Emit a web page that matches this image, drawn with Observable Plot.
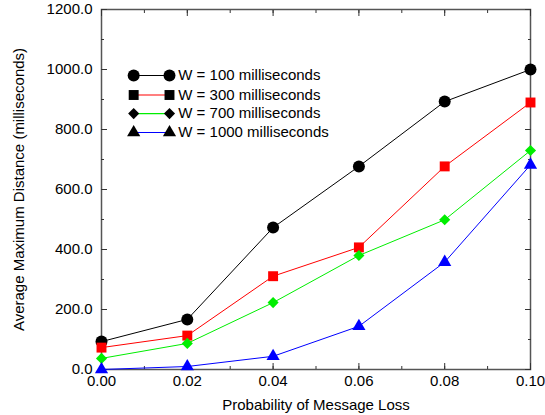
<!DOCTYPE html>
<html><head><meta charset="utf-8">
<script src="https://cdn.jsdelivr.net/npm/d3@7"></script>
<script src="https://cdn.jsdelivr.net/npm/@observablehq/plot@0.6"></script>
<style>
html,body{margin:0;padding:0;background:#fff;}
#chart{width:545px;height:415px;}
svg{font-family:"Liberation Sans",Arial,sans-serif;}
</style></head>
<body><div id="chart"></div>
<script>
const lossProb = [0.00, 0.02, 0.04, 0.06, 0.08, 0.10];
const seriesNames = ["W = 100 milliseconds", "W = 300 milliseconds", "W = 700 milliseconds", "W = 1000 milliseconds"];
const w100 = [93, 167, 473, 677, 893, 1000];
const w300 = [73, 113, 311, 407, 677, 890];
const w700 = [37, 87, 223, 380, 499, 730];
const w1000 = [0, 10, 44, 144, 358, 682];
const seriesColors = ["#000000", "#ff0000", "#00ee00", "#0000ff"];
const seriesSymbols = ["circle", "square", "diamond2", "triangle"];
const symbolRadius = [6, 5.6, 5, 4.9];
const xTicks = [0.00, 0.02, 0.04, 0.06, 0.08, 0.10];
const yTicks = [0, 200, 400, 600, 800, 1000, 1200];

const allVals = [w100, w300, w700, w1000];
const data = [];
allVals.forEach((vals, si) => vals.forEach((v, i) => data.push({x: lossProb[i], y: v, s: seriesNames[si], r: symbolRadius[si]})));

const legendY = [980, 915, 853, 790];
const legend = seriesNames.map((s, i) => ({s, y: legendY[i], r: symbolRadius[i]}));

const colorScale = {domain: seriesNames, range: seriesColors};
const symScale = {domain: seriesNames, range: seriesSymbols};
const xMinor = d3.range(0, 0.1001, 0.01);
const yMinor = d3.range(0, 1201, 100);

const chart = Plot.plot({
  width: 545, height: 415,
  marginLeft: 101, marginRight: 15, marginTop: 9, marginBottom: 46,
  style: {fontSize: "15px", fontFamily: "'Liberation Sans', Arial, sans-serif", color: "#000"},
  x: {domain: [0, 0.1]},
  y: {domain: [0, 1200]},
  r: {type: "identity"},
  color: colorScale,
  symbol: symScale,
  marks: [
    Plot.frame({stroke: "#555", strokeWidth: 1.5}),
    Plot.axisX(xMinor, {anchor: "bottom", tickSize: -3, text: null, stroke: "#333", label: null}),
    Plot.axisX(xTicks, {anchor: "bottom", tickSize: -6, text: null, stroke: "#333", label: null}),
    Plot.axisX(xMinor, {anchor: "top", tickSize: -3, text: null, stroke: "#333", label: null}),
    Plot.axisX(xTicks, {anchor: "top", tickSize: -6, text: null, stroke: "#333", label: null}),
    Plot.axisX(xTicks, {anchor: "bottom", tickSize: 0, tickPadding: 6, tickFormat: d3.format(".2f"), fontSize: 15,
      label: "Probability of Message Loss", labelAnchor: "center", labelArrow: "none", labelOffset: 40}),
    Plot.axisY(yMinor, {anchor: "left", tickSize: -3, text: null, stroke: "#333", label: null}),
    Plot.axisY(yTicks, {anchor: "left", tickSize: -6, text: null, stroke: "#333", label: null}),
    Plot.axisY(yMinor, {anchor: "right", tickSize: -3, text: null, stroke: "#333", label: null}),
    Plot.axisY(yTicks, {anchor: "right", tickSize: -6, text: null, stroke: "#333", label: null}),
    Plot.axisY(yTicks, {anchor: "left", tickSize: 0, tickPadding: 9, tickFormat: d3.format(".1f"), fontSize: 15,
      label: "Average Maximum Distance (milliseconds)", labelAnchor: "center", labelArrow: "none", labelOffset: 88}),
    Plot.line(data, {x: "x", y: "y", z: "s", stroke: "s", strokeWidth: 1}),
    Plot.dot(data, {x: "x", y: "y", symbol: "s", fill: "s", stroke: "none", r: "r"}),
    // legend
    Plot.link(legend, {x1: 0.0075, x2: 0.01585, y1: "y", y2: "y", stroke: "s", strokeWidth: 1.2}),
    Plot.dot(legend, {x: 0.0075, y: "y", symbol: "s", fill: "black", r: "r"}),
    Plot.dot(legend, {x: 0.01585, y: "y", symbol: "s", fill: "black", r: "r"}),
    Plot.text(legend, {x: 0.0179, y: "y", text: "s", textAnchor: "start", fontSize: 15, fill: "black"})
  ]
});
document.getElementById("chart").appendChild(chart);
</script>
</body></html>
